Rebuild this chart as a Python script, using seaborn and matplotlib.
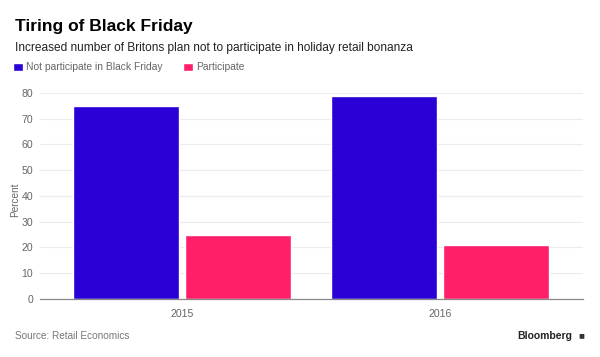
import numpy as np
import pandas as pd
import matplotlib.pyplot as plt
import seaborn as sns

years = ['2015', '2016']
not_participate = [75, 79]
participate = [25, 21]
series_names = ['Not participate in Black Friday', 'Participate']
colors = ['#2a00d6', '#ff1f69']

df = pd.DataFrame({
    'year': years * 2,
    'value': not_participate + participate,
    'group': [series_names[0]] * len(years) + [series_names[1]] * len(years),
})

sns.set_style('white')
plt.rcParams['font.family'] = ['Liberation Sans', 'DejaVu Sans']

fig = plt.figure(figsize=(6, 3.57), dpi=100)
ax = fig.add_axes([0.067, 0.1625, 0.905, 0.577])

sns.barplot(data=df, x='year', y='value', hue='group', palette=colors,
            width=0.87, gap=0.05, saturation=1, ax=ax)

ax.set_ylim(0, 80)
ax.set_xlim(-0.55, 1.555)
ax.set_yticks(range(0, 81, 10))
ax.yaxis.grid(True, color='#ececec', linewidth=0.8)
ax.set_axisbelow(True)
for s in ['top', 'right', 'left']:
    ax.spines[s].set_visible(False)
ax.spines['bottom'].set_color('#888888')
ax.spines['bottom'].set_linewidth(0.9)
ax.tick_params(axis='y', length=0, labelsize=7.6, labelcolor='#666666', pad=5)
ax.tick_params(axis='x', length=3, width=0.6, color='#888888', labelsize=7.6,
               labelcolor='#666666', pad=4)
ax.set_xlabel('')
ax.set_ylabel('Percent', fontsize=7.2, color='#666666')
ax.yaxis.set_label_coords(-0.037, 0.48)

handles, labels = ax.get_legend_handles_labels()
ax.get_legend().remove()
fig.legend(handles, labels, loc='center left', bbox_to_anchor=(0.022, 0.811),
           ncol=2, frameon=False, fontsize=7.4, handlelength=0.95,
           handleheight=0.95, handletextpad=0.3, columnspacing=2.0,
           labelcolor='#666666', borderaxespad=0, borderpad=0)

fig.text(0.025, 0.925, 'Tiring of Black Friday', fontsize=12.5,
         fontweight='bold', color='#000000', va='center')
fig.text(0.025, 0.865, 'Increased number of Britons plan not to participate in holiday retail bonanza',
         fontsize=8.6, color='#222222', va='center')
fig.text(0.025, 0.06, 'Source: Retail Economics', fontsize=7.2,
         color='#777777', va='center')
fig.text(0.953, 0.06, 'Bloomberg', fontsize=7.5, fontweight='bold',
         color='#222222', va='center', ha='right')
fig.text(0.973, 0.06, '\u25a0', fontsize=7, color='#333333',
         va='center', ha='right')

fig.savefig('out.png', dpi=100)
